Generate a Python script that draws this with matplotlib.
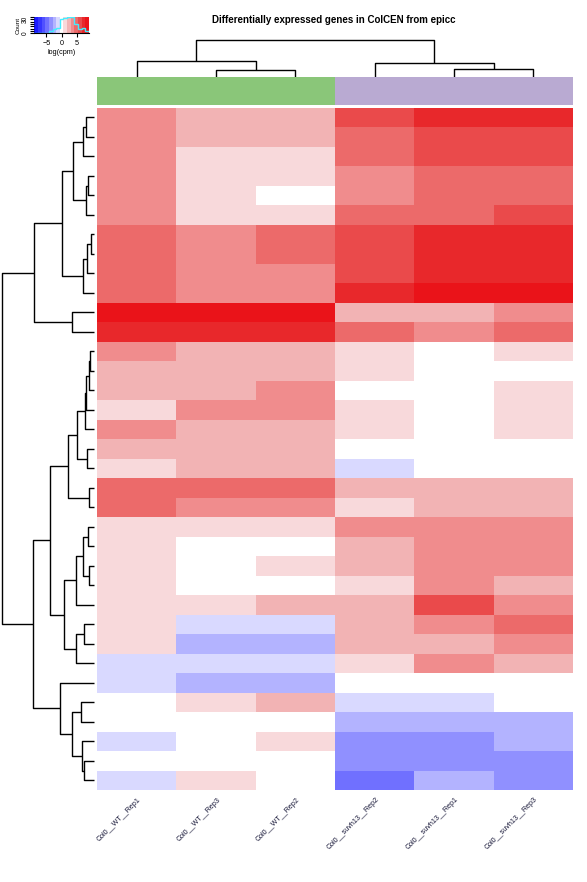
import numpy as np
import matplotlib
matplotlib.use("Agg")
import matplotlib.pyplot as plt
from matplotlib.colors import ListedColormap, BoundaryNorm

# ---------------- data ----------------
samples = ["Col0__WT__Rep1", "Col0__WT__Rep3", "Col0__WT__Rep2",
           "Col0__suvh13__Rep2", "Col0__suvh13__Rep1", "Col0__suvh13__Rep3"]
groups = ["WT", "WT", "WT", "suvh13", "suvh13", "suvh13"]
group_colors = {"WT": "#8AC679", "suvh13": "#B9AAD2"}

# log(cpm) (row-scaled) values, rows in dendrogram order
logcpm = [
    [3.6, 2.4, 2.4, 6.0, 7.2, 7.2],
    [3.6, 2.4, 2.4, 4.8, 6.0, 6.0],
    [3.6, 1.2, 1.2, 4.8, 6.0, 6.0],
    [3.6, 1.2, 1.2, 3.6, 4.8, 4.8],
    [3.6, 1.2, 0.0, 3.6, 4.8, 4.8],
    [3.6, 1.2, 1.2, 4.8, 4.8, 6.0],
    [4.8, 3.6, 4.8, 6.0, 7.2, 7.2],
    [4.8, 3.6, 4.8, 6.0, 7.2, 7.2],
    [4.8, 3.6, 3.6, 6.0, 7.2, 7.2],
    [4.8, 3.6, 3.6, 7.2, 8.4, 8.4],
    [8.4, 8.4, 8.4, 2.4, 2.4, 3.6],
    [7.2, 7.2, 7.2, 4.8, 3.6, 4.8],
    [3.6, 2.4, 2.4, 1.2, 0.0, 1.2],
    [2.4, 2.4, 2.4, 1.2, 0.0, 0.0],
    [2.4, 2.4, 3.6, 0.0, 0.0, 1.2],
    [1.2, 3.6, 3.6, 1.2, 0.0, 1.2],
    [3.6, 2.4, 2.4, 1.2, 0.0, 1.2],
    [2.4, 2.4, 2.4, 0.0, 0.0, 0.0],
    [1.2, 2.4, 2.4, -1.2, 0.0, 0.0],
    [4.8, 4.8, 4.8, 2.4, 2.4, 2.4],
    [4.8, 3.6, 3.6, 1.2, 2.4, 2.4],
    [1.2, 1.2, 1.2, 3.6, 3.6, 3.6],
    [1.2, 0.0, 0.0, 2.4, 3.6, 3.6],
    [1.2, 0.0, 1.2, 2.4, 3.6, 3.6],
    [1.2, 0.0, 0.0, 1.2, 3.6, 2.4],
    [1.2, 1.2, 2.4, 2.4, 6.0, 3.6],
    [1.2, -1.2, -1.2, 2.4, 3.6, 4.8],
    [1.2, -2.4, -2.4, 2.4, 2.4, 3.6],
    [-1.2, -1.2, -1.2, 1.2, 3.6, 2.4],
    [-1.2, -2.4, -2.4, 0.0, 0.0, 0.0],
    [0.0, 1.2, 2.4, -1.2, -1.2, 0.0],
    [0.0, 0.0, 0.0, -2.4, -2.4, -2.4],
    [-1.2, 0.0, 1.2, -3.6, -3.6, -2.4],
    [0.0, 0.0, 0.0, -3.6, -3.6, -3.6],
    [-1.2, 1.2, 0.0, -4.8, -2.4, -3.6],
]

# row dendrogram merges (child_a, child_b, height); leaves 0..34, merges 35+
row_merges = [
    (0, 1, 8.6), (35, 2, 11.3), (3, 4, 6.0), (37, 5, 8.3), (36, 38, 21.0),
    (6, 7, 3.3), (40, 8, 7.0), (41, 9, 11.3), (39, 42, 32.0), (10, 11, 22.0),
    (43, 44, 60.0), (12, 13, 4.0), (46, 14, 5.0), (47, 15, 8.6), (48, 16, 9.3),
    (17, 18, 7.0), (49, 50, 17.0), (19, 20, 5.0), (51, 52, 26.0), (21, 22, 6.0),
    (23, 24, 5.0), (54, 55, 11.0), (56, 25, 18.0), (26, 27, 10.0), (58, 28, 18.0),
    (57, 59, 30.0), (53, 60, 44.0), (30, 31, 13.0), (33, 34, 10.0), (32, 63, 12.0),
    (62, 64, 22.0), (29, 65, 34.0), (61, 66, 61.0), (45, 67, 92.0),
]
# column dendrogram merges; leaves 0..5, merges 6+
col_merges = [(1, 2, 6.7), (0, 6, 15.7), (4, 5, 7.7), (3, 8, 13.7), (7, 9, 36.7)]

# colour key bins (log(cpm))
break_edges = np.linspace(-9, 9, 16)
level_colors = ["#1A1AFF", "#3535FF", "#5050FF", "#7070FF", "#9090FF", "#B3B3FF",
                "#D9D9FF", "#FFFFFF", "#F8D9DB", "#F2B3B4", "#F08C8D", "#EC6A6A",
                "#EA4A4B", "#E8282B", "#EA1319"]

# ---------------- figure ----------------
W, H = 587, 882
fig = plt.figure(figsize=(W / 100, H / 100), dpi=100)
FONT = "Liberation Sans"


def px_axes(x0, y0, x1, y1):
    ax = fig.add_axes([x0 / W, 1 - y1 / H, (x1 - x0) / W, (y1 - y0) / H])
    ax.set_axis_off()
    return ax


cmap = ListedColormap(level_colors)
norm = BoundaryNorm(break_edges, cmap.N)

data = np.array(logcpm)
nrow, ncol = data.shape

HX0, HX1, HY0, HY1 = 97, 573, 107.7, 790

# heatmap
ax_hm = px_axes(HX0, HY0, HX1, HY1)
ax_hm.pcolormesh(np.arange(ncol + 1) - 0.5, np.arange(nrow + 1) - 0.5, data,
                 cmap=cmap, norm=norm, shading="flat")
ax_hm.set_xlim(-0.5, ncol - 0.5)
ax_hm.set_ylim(nrow - 0.5, -0.5)


def draw_dendro(ax, merges, nleaves, orient):
    pos = {i: float(i) for i in range(nleaves)}
    hgt = {i: 0.0 for i in range(nleaves)}
    for k, (a, b, h) in enumerate(merges):
        node = nleaves + k
        xs = [hgt[a], h, h, hgt[b]]
        ys = [pos[a], pos[a], pos[b], pos[b]]
        if orient == "left":
            ax.plot(xs, ys, color="black", lw=1.0, solid_capstyle="butt", clip_on=False)
        else:
            ax.plot(ys, xs, color="black", lw=1.0, solid_capstyle="butt", clip_on=False)
        pos[node] = (pos[a] + pos[b]) / 2
        hgt[node] = h
    return max(hgt.values())


# row dendrogram
ax_rd = px_axes(2.3, HY0, 94.3, HY1)
hmax = draw_dendro(ax_rd, row_merges, nrow, "left")
ax_rd.set_xlim(hmax, 0)
ax_rd.set_ylim(nrow - 0.5, -0.5)

# column dendrogram
ax_cd = px_axes(HX0, 40.3, HX1, 77)
cmax = draw_dendro(ax_cd, col_merges, ncol, "top")
ax_cd.set_ylim(0, cmax)
ax_cd.set_xlim(-0.5, ncol - 0.5)

# column side colours
ax_cs = px_axes(HX0, 77, HX1, 104.7)
for j, g in enumerate(groups):
    ax_cs.add_patch(plt.Rectangle((j - 0.5, 0), 1, 1, color=group_colors[g], lw=0))
ax_cs.set_xlim(-0.5, ncol - 0.5)
ax_cs.set_ylim(0, 1)

# column labels
for j, s in enumerate(samples):
    xc = HX0 + (j + 0.5) * (HX1 - HX0) / ncol
    fig.text((xc + 1) / W, 1 - 796 / H, s, rotation=45, rotation_mode="anchor",
             ha="right", va="top", fontsize=5.1, family=FONT, color="#111133")

# title
fig.text(334 / W, 1 - 20 / H, "Differentially expressed genes in ColCEN from epicc",
         ha="center", va="center", fontsize=7, fontweight="bold", family=FONT)

# colour key with histogram
counts, _ = np.histogram(data.ravel(), bins=break_edges)
ymax = counts.max() * 1.03
ax_k = fig.add_axes([34.3 / W, 1 - 33.3 / H, (89 - 34.3) / W, (33.3 - 16.7) / H])
ax_k.pcolormesh(break_edges, [0, ymax], np.array([(break_edges[:-1] + break_edges[1:]) / 2]),
                cmap=cmap, norm=norm, shading="flat")
ax_k.stairs(counts, break_edges, color="#44EEFF", lw=1.0, baseline=None)
ax_k.plot([break_edges[0], break_edges[0]], [0, counts[0]], color="#44EEFF", lw=1.0)
ax_k.set_xlim(break_edges[0], break_edges[-1])
ax_k.set_ylim(0, ymax)
for sp in ["top", "right"]:
    ax_k.spines[sp].set_visible(False)
ax_k.spines["left"].set_visible(False)
ax_k.spines["bottom"].set_linewidth(0.8)
ax_k.set_xticks([-5, 0, 5])
ax_k.set_xticklabels(["\u22125", "0", "5"], fontsize=5.2, family=FONT)
ax_k.tick_params(axis="x", length=3, width=0.8, pad=1.5)
yt = np.arange(0, ymax, 5)
ax_k.set_yticks(yt)
ax_k.set_yticklabels(["0" if v == 0 else ("30" if v == 30 else "") for v in yt],
                     fontsize=4.8, family=FONT, rotation=90, va="center")
ax_k.tick_params(axis="y", length=3, width=0.8, pad=1)
ax_k.set_xlabel("log(cpm)", fontsize=5.2, family=FONT, labelpad=2)
ax_k.set_ylabel("Count", fontsize=4.6, family=FONT, labelpad=1)

fig.savefig("out.png", dpi=100)
